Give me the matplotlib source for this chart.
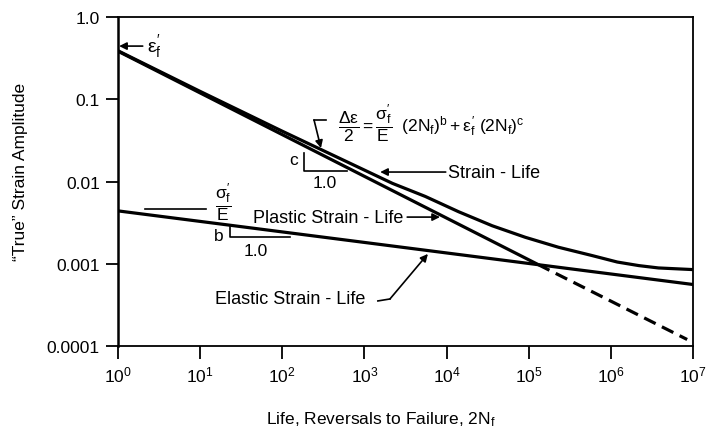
import numpy as np
import matplotlib
matplotlib.use('Agg')
import matplotlib.pyplot as plt

plt.rcParams['font.family'] = ['Liberation Sans', 'DejaVu Sans']
plt.rcParams['mathtext.fontset'] = 'custom'
plt.rcParams['mathtext.rm'] = 'Liberation Sans'
plt.rcParams['mathtext.it'] = 'Liberation Sans'
plt.rcParams['mathtext.bf'] = 'Liberation Sans:bold'

# values (reversals 2Nf vs strain amplitude)
life_elastic = [1, 1e7]
elastic = [0.0044, 0.00056]

life_plastic = [1, 1.3e5]
plastic = [0.385, 0.00098]
life_plastic_ext = [1.3e5, 8.5e6]
plastic_ext = [0.00098, 0.00012]

life_total = [1, 10, 100, 1e3, 2.2e3, 5.5e3, 1.4e4, 3.6e4, 9.1e4, 2.3e5,
              5.9e5, 1.2e6, 2.2e6, 3.8e6, 1e7]
total = [0.39, 0.125, 0.041, 0.0138, 0.0095, 0.0066, 0.0043, 0.0029,
         0.0021, 0.00159, 0.00126, 0.00105, 0.00095, 0.00089, 0.00085]

x_ticks = [1, 10, 100, 1e3, 1e4, 1e5, 1e6, 1e7]
y_ticks = [1e-4, 1e-3, 1e-2, 1e-1, 1]
y_tick_labels = ['0.0001', '0.001', '0.01', '0.1', '1.0']

fig = plt.figure(figsize=(7.16, 4.31), dpi=100)
ax = fig.add_axes([0.1648, 0.1949, 0.803, 0.763])

lw = 2.3
ax.plot(life_total, total, color='black', lw=lw, solid_capstyle='butt')
ax.plot(life_plastic, plastic, color='black', lw=lw, solid_capstyle='butt')
ax.plot(life_plastic_ext, plastic_ext, color='black', lw=lw, dashes=(4, 2.2))
ax.plot(life_elastic, elastic, color='black', lw=lw, solid_capstyle='butt')

ax.set_xscale('log')
ax.set_yscale('log')
ax.set_xlim(1, 1e7)
ax.set_ylim(1e-4, 1)
ax.set_xticks(x_ticks)
ax.set_yticks(y_ticks)
ax.set_yticklabels(y_tick_labels)
ax.minorticks_off()
ax.tick_params(axis='both', direction='out', length=9, width=1.3,
               labelsize=12.5, pad=4)
for s in ax.spines.values():
    s.set_linewidth(1.3)
ax.spines['left'].set_linewidth(1.8)

ax.text(-0.169, 0.532, u'\u201cTrue\u201d Strain Amplitude', rotation=90,
        ha='center', va='center', fontsize=12.5, transform=ax.transAxes)
ax.text(0.457, -0.222, r'Life, Reversals to Failure, 2N$_\mathrm{f}$',
        ha='center', va='center', fontsize=12.5, transform=ax.transAxes)

arrow = dict(arrowstyle='-|>', color='black', lw=1.2, mutation_scale=11,
             shrinkA=0, shrinkB=0)
T = ax.transAxes

# eps_f' marker
ax.annotate('', xy=(0.002, 0.912), xytext=(0.043, 0.912), xycoords=T,
            textcoords=T, arrowprops=arrow)
ax.text(0.05, 0.915, r"$\varepsilon_f'$", fontsize=14, va='center',
        transform=T)

# equation
ax.text(0.382, 0.681,
        r"$\dfrac{\Delta\varepsilon}{2} = \dfrac{\sigma_f'}{E}\ \ (2N_f)^b + \varepsilon_f'\ (2N_f)^c$",
        fontsize=12.5, ha='left', va='center', transform=T)
ax.plot([0.362, 0.341], [0.687, 0.687], color='black', lw=1.2, transform=T,
        clip_on=False)
ax.annotate('', xy=(0.353, 0.602), xytext=(0.341, 0.687), xycoords=T,
            textcoords=T, arrowprops=arrow)

# slope c
ax.plot([0.3235, 0.3235, 0.398], [0.587, 0.532, 0.532], color='black',
        lw=1.2, transform=T)
ax.text(0.306, 0.568, 'c', fontsize=12.5, ha='center', va='center',
        transform=T)
ax.text(0.360, 0.498, '1.0', fontsize=12.5, ha='center', va='center',
        transform=T)

# slope b
ax.plot([0.195, 0.195, 0.299], [0.362, 0.331, 0.331], color='black',
        lw=1.2, transform=T)
ax.text(0.176, 0.337, 'b', fontsize=12.5, ha='center', va='center',
        transform=T)
ax.text(0.240, 0.289, '1.0', fontsize=12.5, ha='center', va='center',
        transform=T)

# sigma_f'/E
ax.text(0.183, 0.441, r"$\dfrac{\sigma_f'}{E}$", fontsize=12.5,
        ha='center', va='center', transform=T)
ax.plot([0.047, 0.153], [0.417, 0.417], color='black', lw=1.2, transform=T)

# curve labels
ax.text(0.235, 0.392, 'Plastic Strain - Life', fontsize=13, va='center',
        transform=T)
ax.annotate('', xy=(0.560, 0.392), xytext=(0.503, 0.392), xycoords=T,
            textcoords=T, arrowprops=arrow)

ax.text(0.574, 0.529, 'Strain - Life', fontsize=13, va='center',
        transform=T)
ax.annotate('', xy=(0.456, 0.529), xytext=(0.570, 0.529), xycoords=T,
            textcoords=T, arrowprops=arrow)

ax.text(0.169, 0.143, 'Elastic Strain - Life', fontsize=13, va='center',
        transform=T)
ax.plot([0.452, 0.473], [0.137, 0.143], color='black', lw=1.2, transform=T)
ax.annotate('', xy=(0.539, 0.280), xytext=(0.473, 0.143), xycoords=T,
            textcoords=T, arrowprops=arrow)

fig.savefig('out.png', dpi=100)
